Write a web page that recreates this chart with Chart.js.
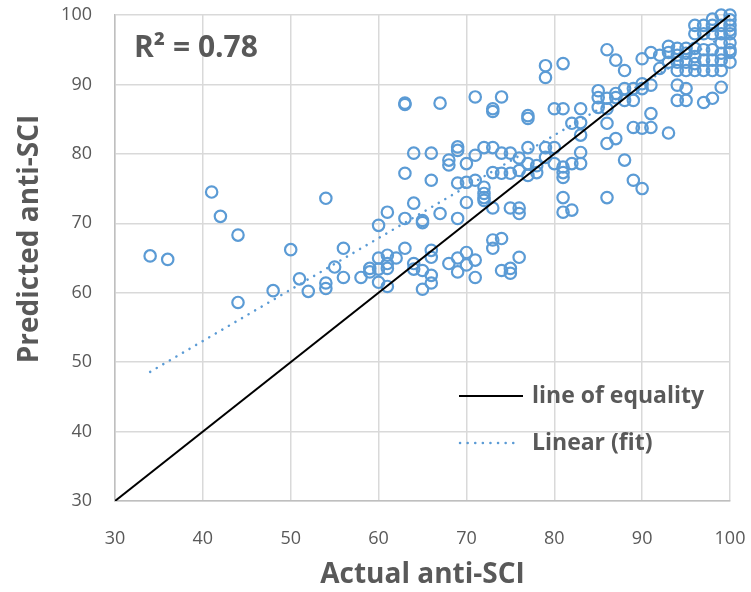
<!DOCTYPE html>
<html>
<head>
<meta charset="utf-8">
<script src="https://cdn.jsdelivr.net/npm/chart.js@4.4.1/dist/chart.umd.min.js"></script>
<style>
  html, body { margin: 0; padding: 0; background: #fff; }
  #wrap { width: 751px; height: 592px; }
</style>
</head>
<body>
<div id="wrap"><canvas id="scatter-chart"></canvas></div>
<script>
// -- THE DATA --

// actual anti-SCI (x) and predicted anti-SCI (y)
const actual = [
  34, 36, 41, 42, 44, 44, 48, 50, 51, 52,
  54, 54, 54, 55, 56, 56, 58, 59, 59,
  60, 60, 60, 60, 61, 61, 61, 61, 61, 62,
  63, 63, 63, 63, 63, 64, 64, 64, 64,
  65, 65, 65, 65, 66, 66, 66, 66, 66, 66,
  67, 67, 68, 68, 68, 69, 69, 69, 69, 69, 69,
  70, 70, 70, 70, 70, 71, 71, 71, 71, 71,
  72, 72, 72, 72, 72, 73, 73, 73, 73, 73, 73, 73,
  74, 74, 74, 74, 74, 75, 75, 75, 75, 75,
  76, 76, 76, 76, 76, 77, 77, 77, 77, 77,
  78, 78, 79, 79, 79, 79, 80, 80, 80,
  81, 81, 81, 81, 81, 81, 81, 82, 82, 82,
  83, 83, 83, 83, 83, 85, 85, 85,
  86, 86, 86, 86, 86, 86, 87, 87, 87, 87,
  88, 88, 88, 88, 89, 89, 89, 89,
  90, 90, 90, 90, 90, 91, 91, 91, 91, 92, 92,
  93, 93, 93, 93, 94, 94, 94, 94, 94, 94,
  95, 95, 95, 95, 95, 95, 96, 96, 96, 96, 96, 96,
  97, 97, 97, 97, 97, 97, 98, 98, 98, 98, 98, 98, 98,
  99, 99, 99, 99, 99, 99, 99, 99,
  100, 100, 100, 100, 100, 100, 100, 100, 100
];
const predicted = [
  65.3, 64.8, 74.5, 71, 68.3, 58.6, 60.3, 66.2, 62, 60.2,
  73.6, 61.4, 60.6, 63.7, 66.4, 62.2, 62.2, 63.5, 63,
  69.7, 65, 63.4, 61.5, 71.6, 65.4, 64.2, 63.5, 60.9, 65,
  87.3, 87.1, 77.2, 70.7, 66.4, 80.1, 72.9, 64.2, 63.4,
  70.4, 70.1, 63.2, 60.5, 80.1, 76.2, 66.1, 65.1, 62.5, 61.4,
  87.3, 71.4, 79.1, 78.4, 64.2, 81, 80.5, 75.8, 70.7, 65, 63,
  78.6, 75.9, 73, 65.8, 64, 88.2, 79.8, 76.2, 64.7, 62.2,
  80.9, 75.2, 74.3, 73.7, 73.3, 86.5, 86.1, 80.9, 77.3, 72.2, 67.6, 66.4,
  88.2, 80.1, 77.2, 67.8, 63.2, 80.1, 77.2, 72.2, 63.5, 62.8,
  79.4, 77.6, 72.2, 71.4, 65.1, 85.5, 85.1, 80.9, 78.6, 76.9,
  78.3, 77.3, 92.7, 91, 80.9, 79.5, 86.5, 80.9, 78.6,
  93, 86.5, 78.1, 77.3, 76.6, 73.7, 71.6, 84.4, 78.6, 71.9,
  86.5, 84.5, 82.7, 80.2, 78.6, 89.1, 88.1, 86.7,
  95, 88, 86.5, 84.4, 81.5, 73.7, 93.5, 88.7, 88.1, 82.2,
  92, 89.4, 87.7, 79.1, 89.4, 87.7, 83.8, 76.2,
  93.7, 90.1, 89.4, 83.7, 75, 94.6, 89.9, 85.8, 83.8, 94.2, 92.3,
  95.5, 94.6, 93.2, 83, 95.2, 94.2, 93.2, 92, 89.9, 87.7,
  95.2, 94.5, 93.2, 92, 89.4, 87.7, 98.5, 97.3, 95.2, 94, 93, 92,
  98.5, 97.3, 95, 93.5, 92, 87.4, 99.4, 98.5, 97.3, 95, 93.5, 92, 88,
  100, 98.5, 97.3, 96, 94.5, 93.5, 92, 89.6,
  100, 99.3, 98.5, 97.8, 97.3, 96, 95, 94.6, 93.2
];

// line of equality (y = x) and the linear fit, end points
const equalityX = [30, 100];
const equalityY = [30, 100];
const fitX = [34, 100];
const fitY = [48.6, 97.5];

const axisMin = 30, axisMax = 100, axisStep = 10;
const legendLabels = ["line of equality", "Linear (fit)"];
const rSquaredText = "R\u00B2 = 0.78";
const xTitle = "Actual anti-SCI";
const yTitle = "Predicted anti-SCI";

// -- THE CHART --

const blue = "#5B9BD5";
const grey = "#595959";
const fontFamily = "'Open Sans', 'Noto Sans', sans-serif";

function pairs(xs, ys) {
  return xs.map((x, i) => ({ x: x, y: ys[i] }));
}

// no extra room for edge labels, the layout padding decides the plot box
function noEdgePadding(scale) {
  scale.paddingLeft = 0;
  scale.paddingRight = 0;
  scale.paddingTop = 0;
  scale.paddingBottom = 0;
}

// draws the R² note, the legend and the y title on top of the plot
const overlay = {
  id: "overlay",
  afterDraw(chart) {
    const ctx = chart.ctx;
    ctx.save();
    ctx.fillStyle = grey;
    ctx.textBaseline = "middle";

    ctx.font = "bold 30px " + fontFamily;
    ctx.textAlign = "left";
    ctx.fillText(rSquaredText, 134, 48);

    // legend
    ctx.font = "bold 23px " + fontFamily;
    ctx.fillText(legendLabels[0], 532, 396);
    ctx.fillText(legendLabels[1], 532, 443);
    ctx.lineWidth = 2;
    ctx.strokeStyle = "#000";
    ctx.beginPath();
    ctx.moveTo(459, 396);
    ctx.lineTo(523, 396);
    ctx.stroke();
    ctx.strokeStyle = blue;
    ctx.lineWidth = 2.5;
    ctx.lineCap = "round";
    ctx.setLineDash([0.1, 7.5]);
    ctx.beginPath();
    ctx.moveTo(460, 443);
    ctx.lineTo(520, 443);
    ctx.stroke();
    ctx.setLineDash([]);

    // y title
    ctx.translate(30, 239);
    ctx.rotate(-Math.PI / 2);
    ctx.textAlign = "center";
    ctx.font = "bold 28px " + fontFamily;
    ctx.fillText(yTitle, 0, 0);
    ctx.restore();
  }
};

const canvas = document.getElementById("scatter-chart");
new Chart(canvas.getContext("2d"), {
  type: "scatter",
  data: {
    datasets: [
      {
        label: legendLabels[0],
        data: pairs(equalityX, equalityY),
        showLine: true,
        borderColor: "#000",
        borderWidth: 2,
        pointRadius: 0,
        order: 1
      },
      {
        label: legendLabels[1],
        data: pairs(fitX, fitY),
        showLine: true,
        borderColor: blue,
        borderWidth: 2.5,
        borderDash: [0.1, 7.5],
        borderCapStyle: "round",
        pointRadius: 0,
        order: 1
      },
      {
        label: "anti-SCI",
        data: pairs(actual, predicted),
        pointStyle: "circle",
        pointRadius: 5.7,
        pointBorderWidth: 2.2,
        pointBorderColor: blue,
        pointBackgroundColor: "rgba(0,0,0,0)",
        clip: false,
        order: 2
      }
    ]
  },
  options: {
    responsive: true,
    maintainAspectRatio: false,
    animation: false,
    layout: { padding: { top: 15, right: 21, left: 0, bottom: 0 } },
    plugins: {
      legend: { display: false },
      tooltip: { enabled: false }
    },
    scales: {
      x: {
        type: "linear",
        min: axisMin,
        max: axisMax,
        afterFit: (scale) => { scale.height = 91; noEdgePadding(scale); },
        ticks: {
          stepSize: axisStep,
          padding: 27,
          color: grey,
          font: { family: fontFamily, size: 18 }
        },
        grid: { color: "#d9d9d9", lineWidth: 1.5, drawTicks: false },
        border: { color: "#bfbfbf", width: 1.5 },
        title: {
          display: true,
          text: xTitle,
          color: grey,
          padding: { top: 0, bottom: 0 },
          font: { family: fontFamily, size: 28, weight: "bold" }
        }
      },
      y: {
        type: "linear",
        min: axisMin,
        max: axisMax,
        afterFit: (scale) => { scale.width = 115; noEdgePadding(scale); },
        ticks: {
          stepSize: axisStep,
          padding: 23,
          color: grey,
          font: { family: fontFamily, size: 18 }
        },
        grid: { color: "#d9d9d9", lineWidth: 1.5, drawTicks: false },
        border: { color: "#bfbfbf", width: 1.5 }
      }
    }
  },
  plugins: [overlay]
});
</script>
</body>
</html>
